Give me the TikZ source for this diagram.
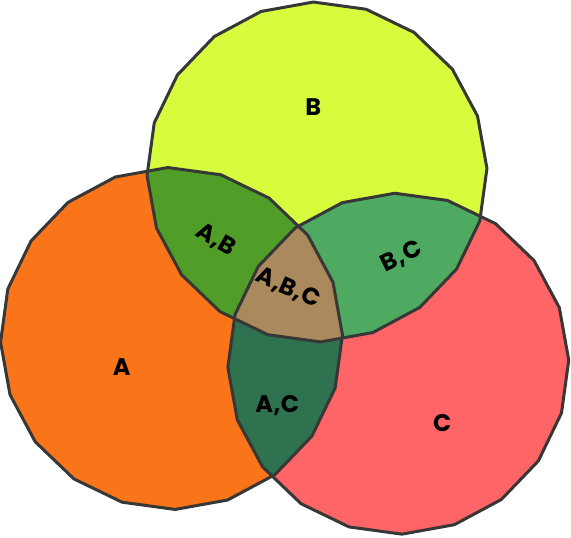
\documentclass[tikz,border=0pt]{standalone}
\usepackage{fontspec}
\setmainfont{Poppins}[LetterSpace=2]
\usetikzlibrary{calc}
\definecolor{colA}{RGB}{250,116,25}
\definecolor{colB}{RGB}{215,252,62}
\definecolor{colC}{RGB}{255,100,102}
\definecolor{colAB}{RGB}{80,157,40}
\definecolor{colBC}{RGB}{78,170,96}
\definecolor{colAC}{RGB}{46,114,80}
\definecolor{colABC}{RGB}{170,138,92}
\definecolor{lineclr}{RGB}{55,55,55}
\newcommand{\vpoly}[2]{($(#1)+(91.2:#2)$) \foreach \i in {1,...,19}{ -- ($(#1)+({91.2+18*\i}:#2)$)} -- cycle}
\begin{document}
\begin{tikzpicture}[x=1pt,y=1pt,
  outline/.style={draw=lineclr, line width=3pt, line join=round},
  lbl/.style={font=\bfseries\fontsize{24}{24}\selectfont, inner sep=0pt, text=black}]
\useasboundingbox (0,0) rectangle (571,538);
\coordinate (cA) at (171.5,199.5);
\coordinate (cB) at (317,366);
\coordinate (cC) at (398.3,174.3);
\fill[colA] \vpoly{cA}{171};
\fill[colB] \vpoly{cB}{170};
\fill[colC] \vpoly{cC}{170.5};
\begin{scope}\clip \vpoly{cA}{171}; \fill[colAB] \vpoly{cB}{170};\end{scope}
\begin{scope}\clip \vpoly{cB}{170}; \fill[colBC] \vpoly{cC}{170.5};\end{scope}
\begin{scope}\clip \vpoly{cA}{171}; \fill[colAC] \vpoly{cC}{170.5};\end{scope}
\begin{scope}\clip \vpoly{cA}{171}; \clip \vpoly{cB}{170}; \fill[colABC] \vpoly{cC}{170.5};\end{scope}
\draw[outline] \vpoly{cA}{171};
\draw[outline] \vpoly{cB}{170};
\draw[outline] \vpoly{cC}{170.5};
\node[lbl] (lA) at (121.7,170.7) {A};
\node[lbl] (lB) at (313.3,430.7) {B};
\node[lbl] (lC) at (442.3,114.7) {C};
\node[lbl, rotate=-30] (lAB) at (216,298) {A,B};
\node[lbl, rotate=-24] (lABC) at (288.3,249.7) {A,B,C};
\node[lbl, rotate=26] (lBC) at (401.7,281.3) {B,C};
\node[lbl] (lAC) at (277.3,132) {A,C};
\end{tikzpicture}
\end{document}
